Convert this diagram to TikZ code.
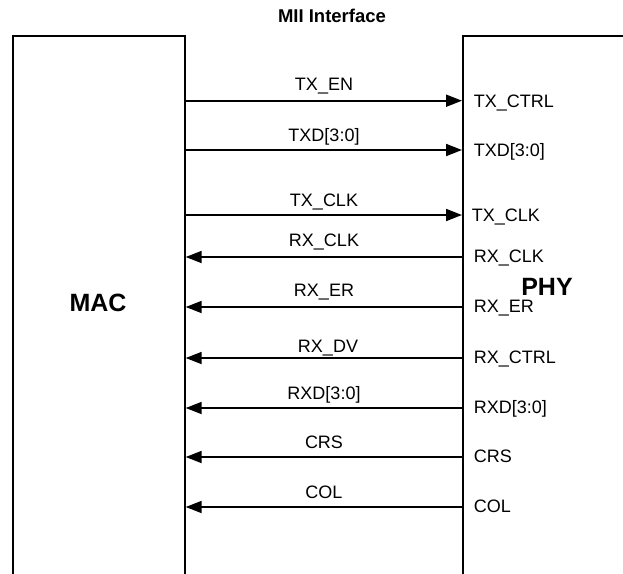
\documentclass[tikz,border=0pt]{standalone}
\usepackage{fontspec}
\setmainfont{Liberation Sans}
\usetikzlibrary{arrows.meta}
\begin{document}
\begin{tikzpicture}[x=1pt, y=-1pt, line width=1.7pt,
    block/.style={draw, anchor=north west, inner sep=0pt, minimum height=600},
    blockname/.style={font=\bfseries\fontsize{25}{29}\selectfont, inner sep=0pt},
    sig/.style={line width=1.8pt, -{Triangle[length=16pt, width=12pt]}},
    siglabel/.style={font=\fontsize{18}{21}\selectfont, inner sep=0pt, anchor=base}]
  \useasboundingbox (0,0) rectangle (623,573);
  \clip (0,0) rectangle (623,573);
  % the title
  \node[font=\bfseries\fontsize{18.5}{22}\selectfont, inner sep=0pt, anchor=base] (title) at (332,22) {MII Interface};
  % the two blocks, open at the bottom
  \node[block, minimum width=172] (mac) at (12,35) {};
  \node[block, minimum width=220] (phy) at (462,35) {};
  \node[blockname] (macname) at (98,303) {MAC};
  \node[blockname] (phyname) at (547,287) {PHY};
  % the signals from MAC to PHY
  \foreach \y/\up/\lbl/\pin/\px [count=\i] in {100.7/10/TX\_EN/TX\_CTRL/473,
      150/9/TXD[3:0]/TXD[3:0]/473, 215/9/TX\_CLK/TX\_CLK/471} {
    \coordinate (tm\i) at (mac.east |- 0,\y);
    \coordinate (tp\i) at (phy.west |- 0,\y);
    \draw[sig] (tm\i) -- (tp\i);
    \node[siglabel] (tname\i) at (324,\y-\up) {\lbl};
    \node[siglabel, anchor=base west] (tpin\i) at (\px,\y+6.5) {\pin};
  }
  % the signals from PHY to MAC
  \foreach \y/\up/\lbl/\pin/\lx [count=\i] in {257/11/RX\_CLK/RX\_CLK/324,
      307/11/RX\_ER/RX\_ER/324, 358/6/RX\_DV/RX\_CTRL/328,
      408/8.5/RXD[3:0]/RXD[3:0]/324, 457/9/CRS/CRS/324, 507/9/COL/COL/324} {
    \coordinate (rp\i) at (phy.west |- 0,\y);
    \coordinate (rm\i) at (mac.east |- 0,\y);
    \draw[sig] (rp\i) -- (rm\i);
    \node[siglabel] (rname\i) at (\lx,\y-\up) {\lbl};
    \node[siglabel, anchor=base west] (rpin\i) at (473,\y+5.5) {\pin};
  }
\end{tikzpicture}
\end{document}
